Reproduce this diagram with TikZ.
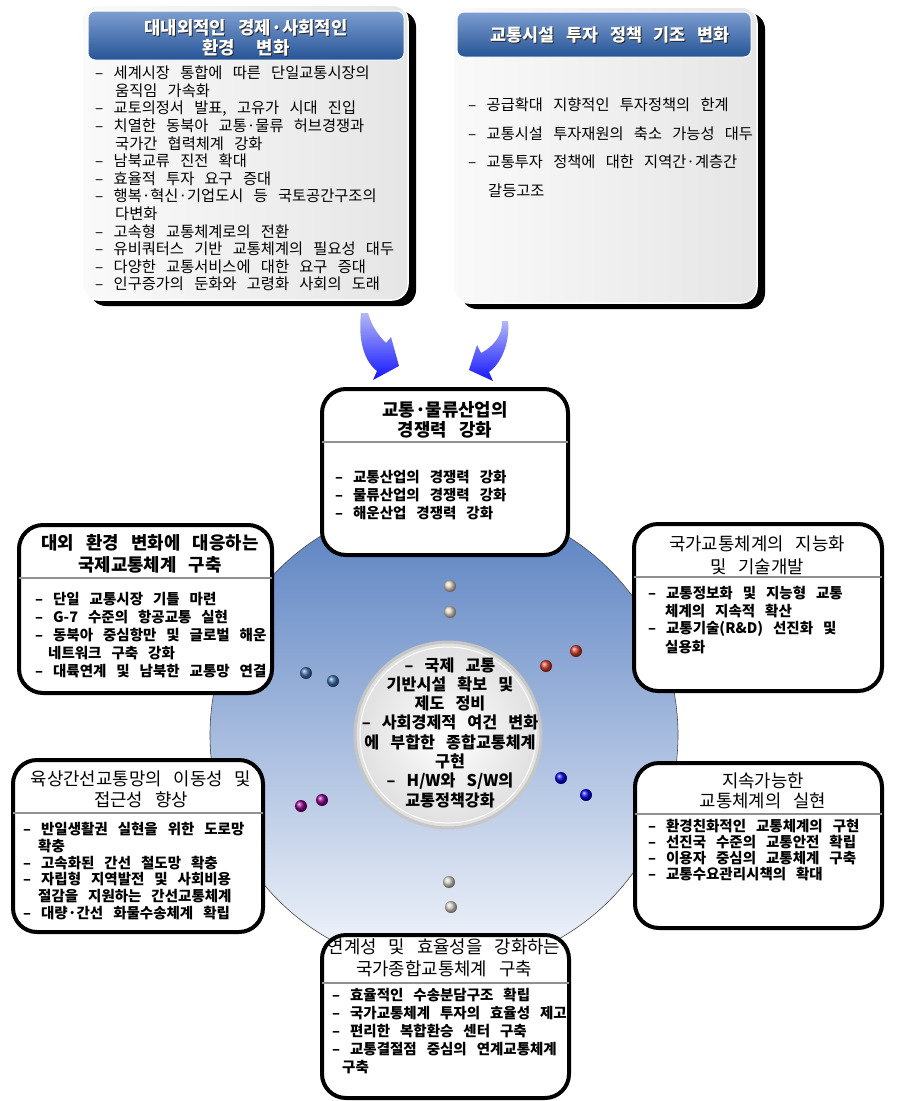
\documentclass[tikz,border=0pt]{standalone}
\usepackage{fontspec}
\setmainfont{Noto Sans CJK KR}[WordSpace=3]
\newcommand\hind[1]{\hspace*{#1pt}}
\newcommand\putlines[6]{%
  \foreach \t [count=\i from 0] in {#6}{\node[#2] (#1\i) at (#3,{#4+\i*(#5)}) {\t};}}
\definecolor{bigtop}{RGB}{86,126,192}
\definecolor{bigbot}{RGB}{246,248,252}
\definecolor{hdrtop}{RGB}{125,158,208}
\definecolor{hdrbot}{RGB}{38,84,150}
\definecolor{sepgray}{RGB}{145,145,145}
\definecolor{arrlight}{RGB}{178,184,246}
\definecolor{arrdark}{RGB}{20,20,255}
\definecolor{dotbeige}{RGB}{228,218,198}
\definecolor{dotgray}{RGB}{215,210,200}
\definecolor{dotred}{RGB}{205,60,40}
\definecolor{dotsteel}{RGB}{60,110,170}
\definecolor{dotblue}{RGB}{0,0,225}
\definecolor{dotpurple}{RGB}{135,0,135}
\begin{document}
\begin{tikzpicture}[x=1pt,y=-1pt,
  mbox/.style={draw=black, line width=4pt, rounded corners=24pt, fill=white, inner sep=0pt},
  sepline/.style={draw=sepgray, line width=2.6pt},
  ttl/.style={align=center, inner sep=0pt, font=\fontsize{17.8}{#1}\selectfont},
  ttlb/.style={align=center, inner sep=0pt, font=\bfseries\fontsize{17.8}{#1}\selectfont},
  itm/.style={anchor=west, inner sep=0pt, font=\bfseries\fontsize{14.5}{18}\selectfont},
  itr/.style={anchor=west, inner sep=0pt, font=\fontsize{15.3}{18}\selectfont},
  gem/.style={circle, inner sep=0pt, minimum size=12pt, ball color=#1},
  panel/.style={rounded corners=16pt, inner sep=0pt, draw=white, line width=1.5pt,
    left color=gray!4, right color=gray!20},
  pshadow/.style={rounded corners=16pt, fill=black, inner sep=0pt},
  hdr/.style={rounded corners=7pt, inner sep=0pt, draw=white, line width=1pt,
    top color=hdrtop, bottom color=hdrbot},
  htxt/.style={align=center, inner sep=0pt, font=\bfseries\fontsize{#1}{20}\selectfont, text=white},
  hsh/.style={align=center, inner sep=0pt, font=\bfseries\fontsize{#1}{20}\selectfont, text=black!85},
  arrowfill/.style={top color=arrlight, bottom color=arrdark},
]
\useasboundingbox (0,0) rectangle (909,1101);
\fill[white] (0,0) rectangle (909,1101);

% ---------- top panels ----------
\node[pshadow, minimum width=326pt, minimum height=295pt] (tlShadow) at (253,158.5) {};
\node[panel, minimum width=326pt, minimum height=295pt] (tlPanel) at (245,152.5) {};
\node[hdr, minimum width=316pt, minimum height=49pt] (tlHdr) at (246,35.5) {};
\node[hsh=17.8] (tlTitleS) at (247,39) {대내외적인 경제·사회적인\\환경\hspace{1.2em}변화};
\node[htxt=17.8] (tlTitle) at (246,38) {대내외적인 경제·사회적인\\환경\hspace{1.2em}변화};

\node[pshadow, minimum width=304pt, minimum height=296pt] (trShadow) at (613,161) {};
\node[panel, minimum width=304pt, minimum height=296pt] (trPanel) at (605,155) {};
\node[hdr, minimum width=294pt, minimum height=45pt] (trHdr) at (604,34.5) {};
\node[hsh=17.4] (trTitleS) at (611,36) {교통시설 투자 정책 기조 변화};
\node[htxt=17.4] (trTitle) at (610,35) {교통시설 투자 정책 기조 변화};

\putlines{tl}{itr}{95}{73}{17.6}{%
{– 세계시장 통합에 따른 단일교통시장의},
{\hind{20}움직임 가속화},
{– 교토의정서 발표, 고유가 시대 진입},
{– 치열한 동북아 교통·물류 허브경쟁과},
{\hind{20}국가간 협력체계 강화},
{– 남북교류 진전 확대},
{– 효율적 투자 요구 증대},
{– 행복·혁신·기업도시 등 국토공간구조의},
{\hind{20}다변화},
{– 고속형 교통체계로의 전환},
{– 유비쿼터스 기반 교통체계의 필요성 대두},
{– 다양한 교통서비스에 대한 요구 증대},
{– 인구증가의 둔화와 고령화 사회의 도래}}

\putlines{tr}{itr}{468}{105}{28.5}{%
{– 공급확대 지향적인 투자정책의 한계},
{– 교통시설 투자재원의 축소 가능성 대두},
{– 교통투자 정책에 대한 지역간·계층간},
{\hind{20}갈등고조}}

% ---------- arrows ----------
\shade[arrowfill] (368,313) .. controls (372,327) and (379,336) .. (386,343)
  -- (391,337) -- (399,366) -- (373,380) -- (377,371)
  .. controls (364,361) and (358,340) .. (361,313) -- cycle;
\shade[arrowfill] (502,321) .. controls (503,335) and (493,347) .. (481,353)
  -- (477,345) -- (469,370) -- (493,381) -- (489,372)
  .. controls (503,362) and (510,340) .. (508,321) -- cycle;

% ---------- big circle ----------
\node[circle, minimum size=468pt, inner sep=0pt, draw=black!70, line width=0.6pt,
  top color=bigtop, bottom color=bigbot] (big) at (444,735) {};

\node[gem=dotbeige] (d1) at (450,586) {};
\node[gem=dotbeige] (d2) at (450,612) {};
\node[gem=dotred] (d3) at (546,666) {};
\node[gem=dotred] (d4) at (576,651) {};
\node[gem=dotsteel] (d5) at (306,673) {};
\node[gem=dotsteel] (d6) at (333,681) {};
\node[gem=dotblue] (d7) at (561,778) {};
\node[gem=dotblue] (d8) at (586,795) {};
\node[gem=dotpurple] (d9) at (301,806) {};
\node[gem=dotpurple] (d10) at (322,800) {};
\node[gem=dotgray] (d11) at (449,882) {};
\node[gem=dotgray] (d12) at (451,907) {};

% ---------- core circle ----------
\node[circle, minimum size=186pt, inner sep=0pt, inner color=white, outer color=gray!25,
  draw=gray!45, line width=3pt] (core) at (448,735) {};
\draw[white, line width=1pt] (core.center) circle[radius=88];
\node[align=center, inner sep=0pt, font=\bfseries\fontsize{16.2}{19.3}\selectfont] (coreTxt) at (450,732.5)
 {– 국제 교통\\기반시설 확보 및\\제도 정비\\– 사회경제적 여건 변화\\에 부합한 종합교통체계\\구현\\– H/W와 S/W의\\교통정책강화};

% ---------- surrounding boxes ----------
\node[mbox, minimum width=246pt, minimum height=166pt] (nTop) at (445,472) {};
\draw[sepline] (322,442) -- (568,442);
\node[ttlb=20] (nTopT) at (445,420) {교통·물류산업의\\경쟁력 강화};
\putlines{ct}{itm}{335}{477}{18}{%
{– 교통산업의 경쟁력 강화},
{– 물류산업의 경쟁력 강화},
{– 해운산업 경쟁력 강화}}

\node[mbox, minimum width=253pt, minimum height=168pt] (nLeft) at (145.5,609) {};
\draw[sepline] (19,578) -- (272,578);
\node[ttlb=22] (nLeftT) at (150,554) {대외 환경 변화에 대응하는\\국제교통체계 구축};
\putlines{lf}{itm}{35}{599}{18}{%
{– 단일 교통시장 기틀 마련},
{– G-7 수준의 항공교통 실현},
{– 동북아 중심항만 및 글로벌 해운},
{\hind{13}네트워크 구축 강화},
{– 대륙연계 및 남북한 교통망 연결}}

\node[mbox, minimum width=248pt, minimum height=167pt] (nRight) at (758,607.5) {};
\draw[sepline] (634,577) -- (882,577);
\node[ttl=23] (nRightT) at (757,555.5) {국가교통체계의 지능화\\및 기술개발};
\putlines{rt}{itm}{648}{593}{18}{%
{– 교통정보화 및 지능형 교통},
{\hind{17}체계의 지속적 확산},
{– 교통기술(R\&D) 선진화 및},
{\hind{17}실용화}}

\node[mbox, minimum width=250pt, minimum height=172pt] (nLL) at (138,846) {};
\draw[sepline] (13,813) -- (263,813);
\node[ttl=21] (nLLT) at (141,789.5) {육상간선교통망의 이동성 및\\접근성 향상};
\putlines{ll}{itm}{23}{829}{16.8}{%
{– 반일생활권 실현을 위한 도로망},
{\hind{15}확충},
{– 고속화된 간선 철도망 확충},
{– 자립형 지역발전 및 사회비용},
{\hind{15}절감을 지원하는 간선교통체계},
{– 대량·간선 화물수송체계 확립}}

\node[mbox, minimum width=247pt, minimum height=165pt] (nLR) at (758.5,845.5) {};
\draw[sepline] (635,814) -- (882,814);
\node[ttl=20] (nLRT) at (763,791) {지속가능한\\교통체계의 실현};
\putlines{lr}{itm}{648}{826}{16}{%
{– 환경친화적인 교통체계의 구현},
{– 선진국 수준의 교통안전 확립},
{– 이용자 중심의 교통체계 구축},
{– 교통수요관리시책의 확대}}

\node[mbox, minimum width=247pt, minimum height=163pt] (nBot) at (445.5,1016.5) {};
\draw[sepline] (322,983) -- (569,983);
\node[ttl=22] (nBotT) at (444,958) {연계성 및 효율성을 강화하는\\국가종합교통체계 구축};
\putlines{bt}{itm}{332}{995}{18}{%
{– 효율적인 수송분담구조 확립},
{– 국가교통체계 투자의 효율성 제고},
{– 편리한 복합환승 센터 구축},
{– 교통결절점 중심의 연계교통체계},
{\hind{10}구축}}
\end{tikzpicture}
\end{document}
